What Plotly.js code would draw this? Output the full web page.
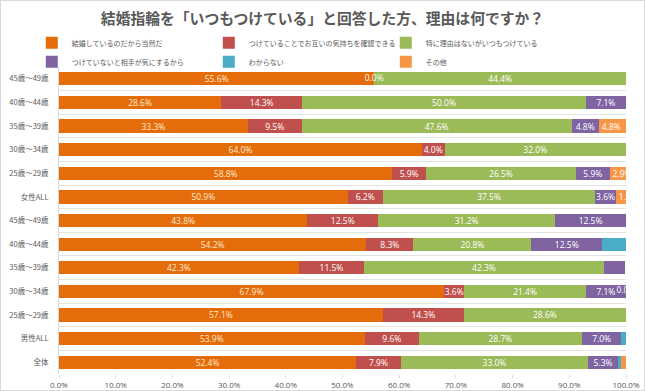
<!DOCTYPE html>
<html>
<head>
<meta charset="utf-8">
<script src="https://cdn.plot.ly/plotly-3.0.1.min.js"></script>
<style>
  html, body { margin: 0; padding: 0; background: #ffffff; }
  #frame { width: 643px; height: 389px; border: 1px solid #d9d9d9; }
  #chart { width: 643px; height: 389px; }
</style>
</head>
<body>
<div id="frame"><div id="chart"></div></div>
<script>
// ---- Data (rows listed top to bottom) ----
const categories = ["45歳～49歳","40歳～44歳","35歳～39歳","30歳～34歳","25歳～29歳","女性ALL",
                    "45歳～49歳","40歳～44歳","35歳～39歳","30歳～34歳","25歳～29歳","男性ALL","全体"];
const seriesNames = ["結婚しているのだから当然だ","つけていることでお互いの気持ちを確認できる","特に理由はないがいつもつけている",
                     "つけていないと相手が気にするから","わからない","その他"];
const atarimae  = [55.6, 28.6, 33.3, 64.0, 58.8, 50.9, 43.8, 54.2, 42.3, 67.9, 57.1, 53.9, 52.4];
const kakunin   = [0.0, 14.3, 9.5, 4.0, 5.9, 6.2, 12.5, 8.3, 11.5, 3.6, 14.3, 9.6, 7.9];
const tokuni    = [44.4, 50.0, 47.6, 32.0, 26.5, 37.5, 31.2, 20.8, 42.3, 21.4, 28.6, 28.7, 33.0];
const kinisuru  = [0, 7.1, 4.8, 0, 5.9, 3.6, 12.5, 12.5, 3.8, 7.1, 0, 7.0, 5.3];
const wakaranai = [0, 0, 0, 0, 0, 0, 0, 4.2, 0, 0.0, 0, 0.8, 0.5];
const sonota    = [0, 0, 4.8, 0, 2.9, 1.8, 0, 0, 0, 0, 0, 0, 0.9];
const xTicks = [0, 10, 20, 30, 40, 50, 60, 70, 80, 90, 100];
// labels hidden in the original: [series, row]
const hiddenLabels = [[4,7],[3,8],[4,11],[4,12],[5,12]];
// zero values whose label is shown: [series, row]
const zeroLabels = [[1,0],[4,9]];

const allSeries = [atarimae, kakunin, tokuni, kinisuru, wakaranai, sonota];
const colors = ["#E46C0A","#C0504D","#9BBB59","#8064A2","#4BACC6","#F79646"];
const textColors = ["#FFEBD0","#ffffff","#ffffff","#ffffff","#ffffff","#ffffff"];
const anchors = ["middle","middle","middle","middle","middle","start"];
const rows = categories.map((c, i) => i);

const isHidden = (s, r) => hiddenLabels.some(p => p[0] === s && p[1] === r);

const traces = allSeries.map((vals, s) => ({
  type: "bar",
  orientation: "h",
  name: seriesNames[s],
  x: vals,
  y: rows,
  marker: { color: colors[s], line: { width: 0 } },
  text: vals.map((v, r) => (v > 0 && !isHidden(s, r)) ? v.toFixed(1) + "%" : ""),
  textposition: "inside",
  insidetextanchor: anchors[s],
  constraintext: "none",
  textangle: 0,
  textfont: { family: "Open Sans, sans-serif", size: 8.5, color: textColors[s] },
  hoverinfo: "skip"
}));

// zero-value labels positioned at the cumulative sum of preceding series
traces.push({
  type: "scatter",
  mode: "text",
  showlegend: false,
  x: zeroLabels.map(p => allSeries.slice(0, p[0]).reduce((a, arr) => a + arr[p[1]], 0)),
  y: zeroLabels.map(p => p[1]),
  text: zeroLabels.map(p => allSeries[p[0]][p[1]].toFixed(1) + "%"),
  textposition: "middle center",
  textfont: { family: "Open Sans, sans-serif", size: 8.5, color: "#ffffff" },
  cliponaxis: true,
  hoverinfo: "skip"
});

const layout = {
  width: 643,
  height: 389,
  margin: { l: 58, r: 18, t: 66, b: 16 },
  paper_bgcolor: "#ffffff",
  plot_bgcolor: "#ffffff",
  barmode: "stack",
  bargap: 0.44,
  showlegend: true,
  font: { family: "Noto Sans CJK JP, sans-serif", color: "#595959" },
  title: {
    text: "結婚指輪を「いつもつけている」と回答した方、理由は何ですか？",
    font: { family: "Noto Sans CJK JP, sans-serif", size: 14.8, color: "#595959", weight: "bold" },
    xref: "container", x: 0.5, xanchor: "center",
    yref: "container", y: 1 - 18 / 389, yanchor: "middle"
  },
  legend: {
    orientation: "h",
    x: -0.048, xanchor: "left",
    y: 1.126, yanchor: "top",
    entrywidth: 132, entrywidthmode: "pixels",
    font: { family: "Noto Sans CJK JP, sans-serif", size: 7, color: "#595959" },
    traceorder: "normal",
    bgcolor: "rgba(0,0,0,0)"
  },
  xaxis: {
    range: [0, 100],
    tickvals: xTicks,
    ticktext: xTicks.map(v => v.toFixed(1) + "%"),
    showgrid: false,
    zeroline: false,
    ticks: "outside", ticklen: 3, tickcolor: "#d9d9d9",
    tickfont: { family: "Open Sans, sans-serif", size: 8, color: "#595959" },
    fixedrange: true
  },
  yaxis: {
    range: [12.5, -0.5],
    tickvals: rows,
    ticktext: categories,
    showgrid: false,
    zeroline: false,
    showline: true, linecolor: "#d9d9d9", linewidth: 1,
    ticks: "",
    ticklabelstandoff: 8,
    tickfont: { family: "Noto Sans CJK JP, sans-serif", size: 7.5, color: "#595959" },
    minor: { tick0: 0.5, dtick: 1, showgrid: true, gridcolor: "#e3e3e3", gridwidth: 1, ticks: "" },
    fixedrange: true
  }
};

Plotly.newPlot("chart", traces, layout, { displayModeBar: false, staticPlot: true });
</script>
</body>
</html>
